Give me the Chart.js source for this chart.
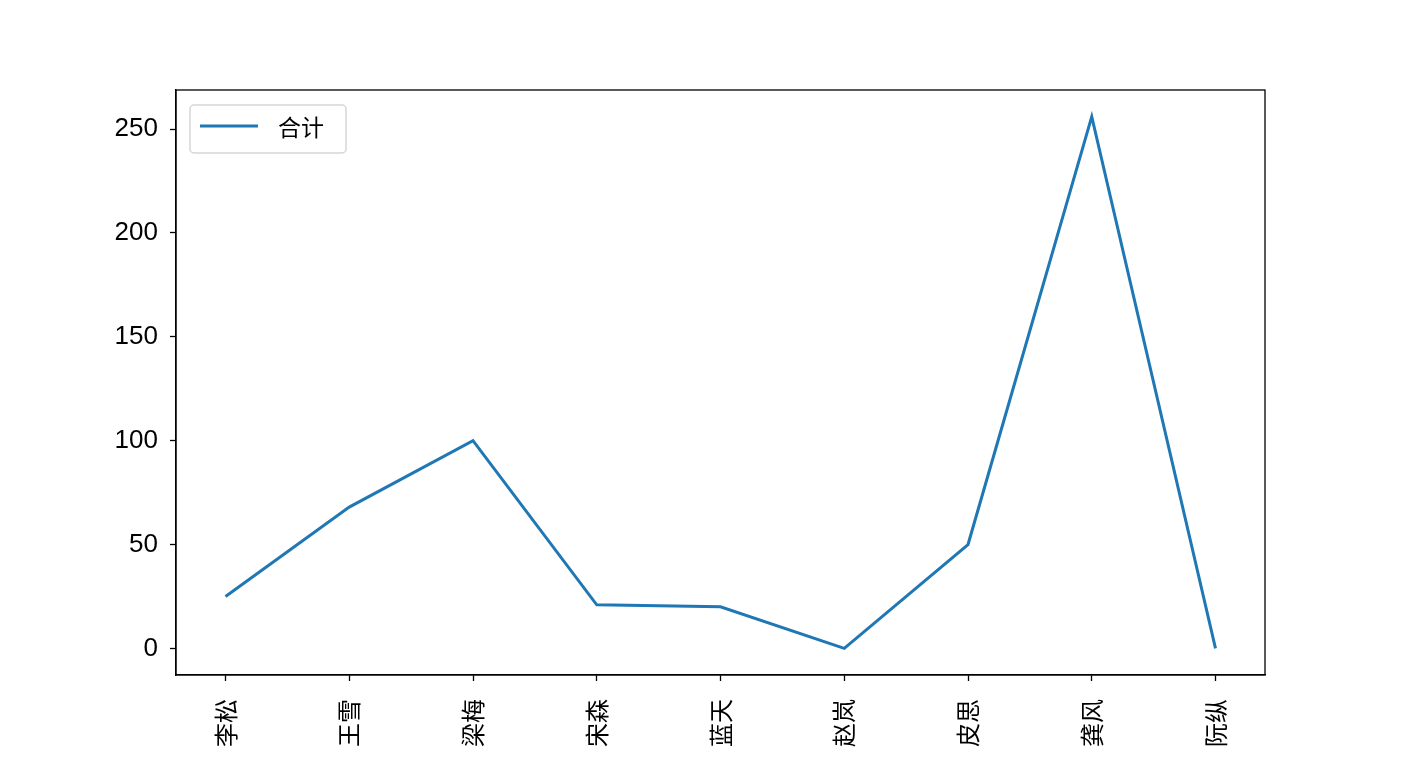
<!DOCTYPE html>
<html>
<head>
<meta charset="utf-8">
<script src="https://cdn.jsdelivr.net/npm/chart.js@4.4.0/dist/chart.umd.min.js"></script>
<style>
  html, body { margin: 0; padding: 0; background: #fff; }
  #box { width: 1406px; height: 758px; }
</style>
</head>
<body>
<div id="box"><canvas id="grafico"></canvas></div>
<script>
let nomes = ["李松", "王雪", "梁梅", "宋森", "蓝天", "赵岚", "皮思", "龚风", "阮纵"];
let total = [25, 68, 100, 21, 20, 0, 50, 256, 0];
let yTicks = [0, 50, 100, 150, 200, 250];
let serie = "合计";

let fonte = '"Liberation Sans", "Noto Sans CJK SC", sans-serif';
let fonteCJK = '"Noto Sans CJK SC", sans-serif';

// moldura + legenda no estilo matplotlib
let moldura = {
  id: 'moldura',
  afterDraw(chart) {
    let c = chart.ctx, a = chart.chartArea;
    c.save();
    c.strokeStyle = '#000';
    c.lineWidth = 1.3;
    c.strokeRect(a.left, a.top, a.right - a.left, a.bottom - a.top);

    let x = a.left + 14, y = a.top + 15, w = 156, h = 48;
    c.beginPath();
    c.roundRect(x, y, w, h, 4);
    c.fillStyle = 'rgba(255,255,255,0.8)';
    c.fill();
    c.strokeStyle = '#d6d6d6';
    c.lineWidth = 1.5;
    c.stroke();
    c.beginPath();
    c.moveTo(x + 10, y + 21);
    c.lineTo(x + 68, y + 21);
    c.strokeStyle = '#1f77b4';
    c.lineWidth = 3;
    c.stroke();
    c.fillStyle = '#000';
    c.font = '23px ' + fonteCJK;
    c.textBaseline = 'middle';
    c.fillText(serie, x + 88, y + 22);
    c.restore();
  }
};

let ctx = document.getElementById('grafico').getContext('2d');

new Chart(ctx, {
  type: 'line',
  data: {
    datasets: [{
      label: serie,
      data: total.map((v, i) => ({ x: i, y: v })),
      borderColor: '#1f77b4',
      borderWidth: 3,
      pointRadius: 0,
      tension: 0,
      fill: false
    }]
  },
  options: {
    responsive: true,
    maintainAspectRatio: false,
    animation: false,
    layout: { padding: { left: 0, top: 90, right: 141, bottom: 0 } },
    plugins: { legend: { display: false }, tooltip: { enabled: false } },
    scales: {
      x: {
        type: 'linear',
        min: -0.4,
        max: 8.4,
        afterBuildTicks: axis => { axis.ticks = nomes.map((n, i) => ({ value: i })); },
        afterFit: axis => { axis.height = 83; },
        ticks: {
          callback: v => nomes[v],
          minRotation: 90,
          maxRotation: 90,
          autoSkip: false,
          padding: 18,
          color: '#000',
          font: { family: fonteCJK, size: 24 }
        },
        grid: { drawOnChartArea: false, drawTicks: true, tickLength: 6, color: '#000', tickWidth: 1.3 },
        border: { display: true, color: '#000', width: 1.3 }
      },
      y: {
        min: -12.8,
        max: 268.8,
        afterBuildTicks: axis => { axis.ticks = yTicks.map(v => ({ value: v })); },
        afterFit: axis => { axis.width = 176; },
        ticks: {
          padding: 12,
          color: '#000',
          font: { family: fonte, size: 26 }
        },
        grid: { drawOnChartArea: false, drawTicks: true, tickLength: 6, color: '#000', tickWidth: 1.3 },
        border: { display: true, color: '#000', width: 1.3 }
      }
    }
  },
  plugins: [moldura]
});
</script>
</body>
</html>
